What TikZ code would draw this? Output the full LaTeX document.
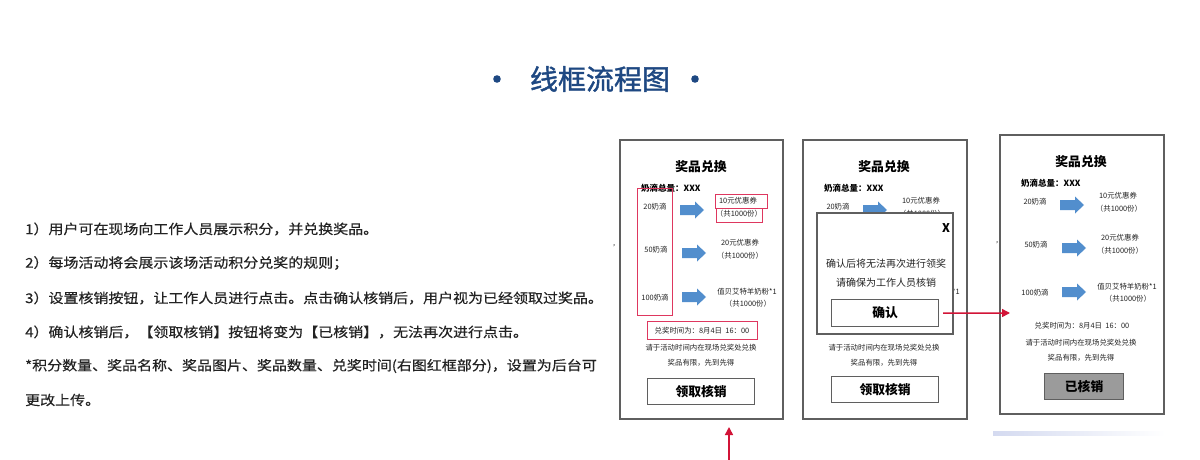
\documentclass[tikz,border=0pt]{standalone}
\usepackage{fontspec}
\setmainfont{Noto Sans CJK SC}
\newfontfamily\bodyfont[FakeStretch=1.11,FakeBold=0.4]{Noto Sans CJK SC}
\newfontfamily\titlefont[FakeBold=1.4]{Noto Sans CJK SC}
\usetikzlibrary{arrows.meta}
\definecolor{titleblue}{RGB}{30,72,130}
\definecolor{frame}{RGB}{95,95,95}
\definecolor{hl}{RGB}{222,55,95}
\definecolor{barrow}{RGB}{82,142,205}
\definecolor{conn}{RGB}{210,20,55}
\definecolor{txt}{RGB}{35,35,35}
\definecolor{btngray}{RGB}{155,155,155}
\definecolor{fadeline}{RGB}{212,218,240}
\tikzset{
  phone/.style={draw=frame, line width=1.2pt, inner sep=0pt, outer sep=0pt, anchor=north west},
  hlbox/.style={draw=hl, line width=1pt},
  ptitle/.style={font=\fontsize{12.8}{14}\selectfont\bfseries, text=black, inner sep=0pt},
  ptotal/.style={font=\fontsize{8.5}{10}\selectfont\bfseries, text=black, inner sep=0pt, anchor=west},
  psmall/.style={font=\fontsize{7.4}{9}\selectfont, text=txt, inner sep=0pt},
  blockarrow/.style={fill=barrow, draw=none},
  btn/.style={draw=frame, line width=1.2pt, inner sep=0pt, anchor=north west, font=\fontsize{12.8}{14}\selectfont\bfseries},
  bodyline/.style={font=\bodyfont\fontsize{13.5}{16}\selectfont, text=txt, anchor=west, inner sep=0pt},
  connarrow/.style={draw=conn, line width=1.5pt, -{Triangle[length=8pt,width=8pt]}},
  popuptxt/.style={font=\fontsize{10}{12}\selectfont, text=txt, inner sep=0pt},
}
% block arrow centred at #1
\newcommand\blockarr[1]{%
  \fill[blockarrow] #1 ++(-12,-5) -- ++(15,0) -- ++(0,-3.5) -- ++(9,8.5) -- ++(-9,8.5) -- ++(0,-3.5) -- ++(-15,0) -- cycle;}
\newcommand\phonebody[2]{%
\begin{scope}[shift={#2}]
  \node[ptitle] (#1title) at (81,27) {奖品兑换};
  \node[ptotal] (#1total) at (21,48) {奶滴总量：XXX};
  \node[psmall] (#1pa) at (35,67) {20奶滴};
  \node[psmall] (#1pb) at (36,110) {50奶滴};
  \node[psmall] (#1pc) at (35,158) {100奶滴};
  \blockarr{(72,70)}
  \blockarr{(74,113)}
  \blockarr{(74,157)}
  \node[psmall] (#1ra) at (118,61) {10元优惠券};
  \node[psmall] (#1rb) at (119,74) {（共1000份）};
  \node[psmall] (#1rc) at (120,103) {20元优惠券};
  \node[psmall] (#1rd) at (120,116) {（共1000份）};
  \node[psmall] (#1re) at (127,152) {值贝艾特羊奶粉*1};
  \node[psmall] (#1rf) at (128,164) {（共1000份）};
  \node[psmall] (#1time) at (82,191) {兑奖时间为：8月4日\ \ 16：00};
  \node[psmall] (#1note) at (81,208) {请于活动时间内在现场兑奖处兑换};
  \node[psmall] (#1limit) at (81,223) {奖品有限，先到先得};
\end{scope}}
\begin{document}
\begin{tikzpicture}[x=1pt,y=-1pt]
\useasboundingbox (0,0) rectangle (1200,460);
\fill[white] (0,0) rectangle (1200,460);

% title
\node[font=\titlefont\fontsize{28}{32}\selectfont, text=titleblue, inner sep=0pt] (title) at (600,79) {线框流程图};
\fill[titleblue] (497,79) circle (3.8);
\fill[titleblue] (695,79) circle (3.8);

% left description
\node[bodyline] (l1) at (25,229) {1）用户可在现场向工作人员展示积分，并兑换奖品。};
\node[bodyline] (l2) at (25,263) {2）每场活动将会展示该场活动积分兑奖的规则；};
\node[bodyline] (l3) at (25,298) {3）设置核销按钮，让工作人员进行点击。点击确认核销后，用户视为已经领取过奖品。};
\node[bodyline] (l4) at (25,332) {4）确认核销后，【领取核销】按钮将变为【已核销】，无法再次进行点击。};
\node[bodyline] (l5) at (25,366) {*积分数量、奖品名称、奖品图片、奖品数量、兑奖时间(右图红框部分)，设置为后台可};
\node[bodyline] (l6) at (25,400) {更改上传。};

% small marks
\node[font=\fontsize{7}{8}\selectfont, inner sep=0pt] (m1) at (614,246) {,};
\node[font=\fontsize{7}{8}\selectfont, inner sep=0pt] (m2) at (997,243) {,};

% phone 1
\node[phone, minimum width=163pt, minimum height=279pt] (ph1) at (620,140) {};
\phonebody{a}{(620,140)}
\draw[hlbox] (637,188) rectangle (672,315);
\draw[hlbox] (715,194) rectangle (767,208);
\draw[hlbox] (716,208) rectangle (762,222);
\draw[hlbox] (647,321) rectangle (757,339);
\node[btn, minimum width=107pt, minimum height=26pt] (btn1) at (647,378) {领取核销};

% phone 2
\node[phone, minimum width=164pt, minimum height=279pt] (ph2) at (803,140) {};
\phonebody{b}{(803,140)}
\node[btn, minimum width=107pt, minimum height=26pt] (btn2) at (831,376) {领取核销};
\node[phone, fill=white, minimum width=136pt, minimum height=121pt] (popup) at (817,213) {};
\node[font=\fontsize{12}{14}\selectfont\bfseries, inner sep=0pt] (close) at (946,228) {X};
\node[popuptxt] (pt1) at (886,264) {确认后将无法再次进行领奖};
\node[popuptxt] (pt2) at (886,283) {请确保为工作人员核销};
\node[btn, fill=white, minimum width=107pt, minimum height=27pt] (confirm) at (831,299) {确认};

% phone 3
\node[phone, minimum width=164pt, minimum height=279pt] (ph3) at (1000,135) {};
\phonebody{c}{(1000,135)}
\node[btn, fill=btngray, minimum width=79pt, minimum height=26pt] (btn3) at (1044,373) {已核销};
\shade[left color=fadeline, right color=white] (993,431) rectangle (1165,435);

% connectors
\coordinate (s1) at (729,460);
\coordinate (e1) at (729,427);
\draw[connarrow] (s1) -- (e1);
\coordinate (e2) at (1010,313);
\draw[connarrow] ([xshift=4pt]confirm.east) -- (e2);
\end{tikzpicture}
\end{document}
